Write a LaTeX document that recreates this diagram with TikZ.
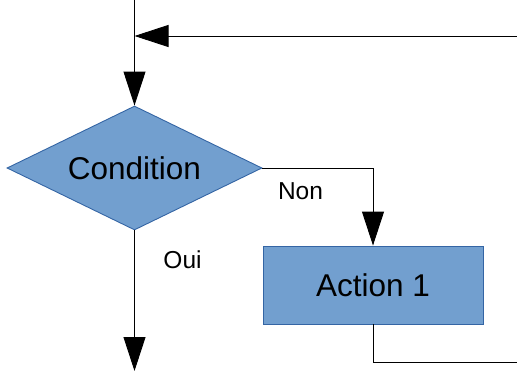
\documentclass[tikz,border=0pt]{standalone}
\usepackage{fontspec}
\setmainfont{Liberation Sans}
\usetikzlibrary{shapes.geometric,arrows.meta}
\definecolor{boxfill}{HTML}{729FCF}
\definecolor{boxline}{HTML}{3465A4}
\tikzset{
  shapebase/.style={fill=boxfill, draw=boxline, line width=0.9pt, inner sep=0pt,
    font=\fontsize{31.5}{36}\selectfont},
  decision/.style={shapebase, diamond, aspect=2.06, minimum width=255pt, minimum height=124pt},
  process/.style={shapebase, rectangle, minimum width=220pt, minimum height=78pt},
  flow/.style={line width=0.9pt, draw=black},
  flowarrow/.style={flow, -{Triangle[length=34pt,width=22pt]}},
  lbl/.style={font=\fontsize{24.5}{28}\selectfont, inner sep=0pt}
}
\begin{document}
\begin{tikzpicture}[x=1pt,y=-1pt]
  \useasboundingbox (0,0) rectangle (517,372);
  % nodes
  \node[decision] (cond) at (134.5,168) {Condition};
  \node[process] (act) at (373,285) {Action 1};
  % free ends
  \coordinate (entry) at (134.5,0);
  \coordinate (join) at (134.5,36);
  \coordinate (loopin) at (517,36);
  \coordinate (exit) at (134.5,371);
  \coordinate (loopout) at (517,362);
  % connectors
  \draw[flowarrow] (entry) -- (cond.north);
  \draw[flowarrow] (loopin) -- (join);
  \draw[flowarrow] (cond.east) -| (act.north);
  \draw[flowarrow] (cond.south) -- (exit);
  \draw[flow] (act.south) |- (loopout);
  % labels
  \node[lbl] (non) at (300.5,191) {Non};
  \node[lbl] (oui) at (182.5,260) {Oui};
\end{tikzpicture}
\end{document}
